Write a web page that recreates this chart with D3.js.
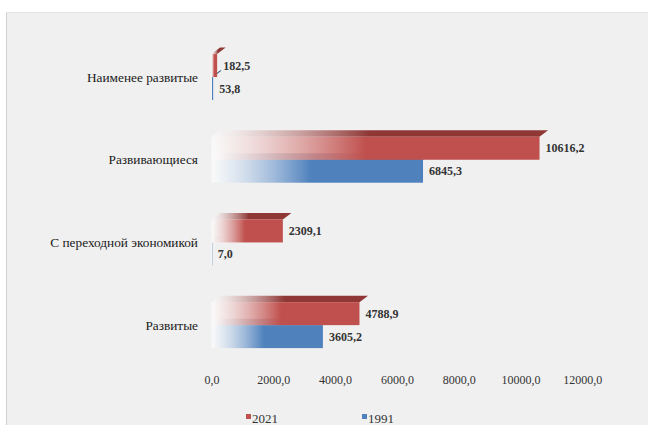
<!DOCTYPE html>
<html><head><meta charset="utf-8">
<script src="https://cdn.jsdelivr.net/npm/d3@7"></script>
<style>
body{margin:0;background:#fff}
svg{display:block}
svg text{font-family:"Liberation Serif","Times New Roman",serif;font-size:12px}
</style>
</head><body><svg id="chart" width="648" height="425"></svg>
<script>
// Группы стран и объём (по годам)
const categories = ["Наименее развитые", "Развивающиеся", "С переходной экономикой", "Развитые"];
const seriesNames = ["2021", "1991"];
const values2021 = [182.5, 10616.2, 2309.1, 4788.9];
const values1991 = [53.8, 6845.3, 7.0, 3605.2];
const tickValues = [0, 2000, 4000, 6000, 8000, 10000, 12000];

const frontColors = {"2021": "#c0504d", "1991": "#4f81bd"};
const topColors = {"2021": "#8e3735", "1991": "#2f4f7a"};

const fmt = v => d3.format(".1f")(v).replace(".", ",");

const svg = d3.select("#chart");

// panel background
svg.append("rect").attr("x", 6).attr("y", 12).attr("width", 642).attr("height", 413)
  .attr("fill", "#f0f0f0");
svg.append("line").attr("x1", 6.5).attr("x2", 6.5).attr("y1", 12).attr("y2", 425)
  .attr("stroke", "#d0d0d0");
svg.append("line").attr("x1", 6).attr("x2", 648).attr("y1", 12.5).attr("y2", 12.5)
  .attr("stroke", "#e4e4e4");

const x = d3.scaleLinear().domain([0, 12000]).range([211.5, 582.3]);
const y = d3.scaleBand().domain(categories).range([35.7, 366.5]);
const ySeries = d3.scaleBand().domain(seriesNames).range([0, y.bandwidth()]).paddingOuter(0.8);

const depthX = 8.5, depthY = 6.5;

const rows = [];
categories.forEach((c, i) => {
  rows.push({cat: c, series: "2021", value: values2021[i]});
  rows.push({cat: c, series: "1991", value: values1991[i]});
});

const defs = svg.append("defs");
function makeGrad(id, color, lightOpacity) {
  const g = defs.append("linearGradient").attr("id", id)
    .attr("x1", 0).attr("x2", 1).attr("y1", 0).attr("y2", 0);
  g.append("stop").attr("offset", 0).attr("stop-color", "#ffffff").attr("stop-opacity", lightOpacity);
  g.append("stop").attr("offset", 0.15).attr("stop-color", d3.interpolateRgb("#ffffff", color)(0.3)).attr("stop-opacity", 0.75);
  g.append("stop").attr("offset", 0.47).attr("stop-color", color).attr("stop-opacity", 1);
  g.append("stop").attr("offset", 1).attr("stop-color", color).attr("stop-opacity", 1);
}
seriesNames.forEach(s => {
  makeGrad("front-" + s, frontColors[s], 0.65);
  makeGrad("top-" + s, topColors[s], 0.5);
});

// 1991 drawn first so the 2021 bars sit in front of its top faces
const order = ["1991", "2021"];
order.forEach(s => {
  const data = rows.filter(r => r.series === s);
  const g = svg.append("g");
  data.forEach(d => {
    const x0 = x(0), x1 = x(d.value);
    const yt = y(d.cat) + ySeries(s);
    const h = ySeries.bandwidth();
    g.append("polygon")
      .attr("points", [[x0, yt], [x1, yt], [x1 + depthX, yt - depthY], [x0 + depthX, yt - depthY]].map(p => p.join(",")).join(" "))
      .attr("fill", "url(#top-" + s + ")");
    g.append("rect").attr("x", x0).attr("y", yt).attr("width", Math.max(x1 - x0, 0.8)).attr("height", h)
      .attr("fill", "url(#front-" + s + ")");
  });
});

// value labels
svg.append("g").selectAll("text").data(rows).join("text")
  .attr("x", d => x(d.value) + 6)
  .attr("y", d => y(d.cat) + ySeries(d.series) + ySeries.bandwidth() / 2)
  .attr("dy", "0.35em")
  .style("font-weight", "bold")
  .attr("fill", "#333")
  .text(d => fmt(d.value));

// category labels
svg.append("g").selectAll("text").data(categories).join("text")
  .attr("x", 198)
  .attr("y", d => y(d) + y.bandwidth() / 2)
  .attr("dy", "0.35em").attr("text-anchor", "end")
  .style("font-size", "13.3px")
  .attr("fill", "#1a1a1a")
  .text(d => d);

// value axis
const axis = d3.axisBottom(x).tickValues(tickValues).tickFormat(fmt).tickSize(0).tickPadding(0);
const ax = svg.append("g").attr("transform", "translate(0,376)").call(axis);
ax.select(".domain").remove();
ax.attr("font-family", null).attr("font-size", null);
ax.selectAll("text").attr("fill", "#333").attr("dy", "0.35em").attr("y", 4);

// legend
const legend = svg.append("g");
const legendX = {"2021": 246, "1991": 362};
seriesNames.forEach(s => {
  legend.append("rect").attr("x", legendX[s]).attr("y", 414).attr("width", 5).attr("height", 5)
    .attr("fill", frontColors[s]);
  legend.append("text").attr("x", legendX[s] + 6).attr("y", 418).attr("dy", "0.35em")
    .style("font-size", "13px")
    .attr("fill", "#333").text(s);
});
</script></body></html>
